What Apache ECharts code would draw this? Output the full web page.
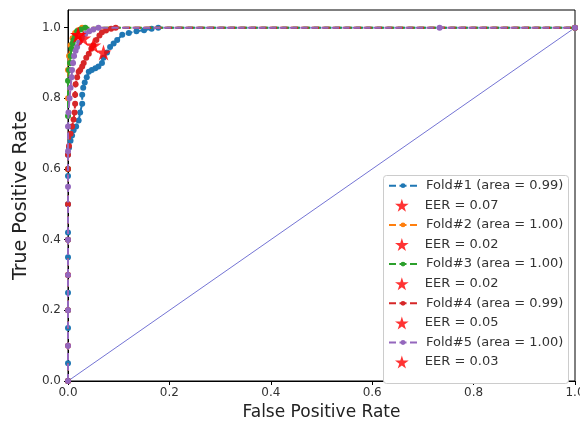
<!DOCTYPE html>
<html>
<head>
<meta charset="utf-8">
<script src="https://cdn.jsdelivr.net/npm/echarts@6/dist/echarts.min.js"></script>
<style>
  html, body { margin: 0; padding: 0; background: #fff; }
  #roc { width: 580px; height: 426px; }
</style>
</head>
<body>
<div id="roc"></div>
<script>
// ROC points, [fpr, tpr]
var fold1 = [[0,0],[0,0.05],[0,0.15],[0,0.25],[0,0.35],[0,0.42],[0,0.5],[0,0.58],[0,0.64],[0.002,0.66],[0.005,0.68],
  [0.008,0.695],[0.011,0.71],[0.016,0.72],[0.021,0.737],[0.024,0.76],[0.028,0.785],[0.028,0.81],[0.03,0.83],[0.033,0.845],
  [0.037,0.86],[0.041,0.875],[0.047,0.88],[0.054,0.885],[0.06,0.89],[0.067,0.9],[0.07,0.915],[0.077,0.93],[0.083,0.945],
  [0.09,0.955],[0.097,0.965],[0.107,0.98],[0.12,0.985],[0.135,0.99],[0.15,0.993],[0.165,0.997],[0.178,1.0],[1,1]];
var fold2 = [[0,0],[0,0.3],[0,0.6],[0,0.8],[0,0.88],[0.002,0.92],[0.005,0.95],[0.009,0.97],[0.014,0.985],[0.02,0.993],
  [0.028,1.0],[1,1]];
var fold3 = [[0,0],[0,0.2],[0,0.4],[0,0.6],[0,0.75],[0,0.85],[0.002,0.88],[0.004,0.9],[0.005,0.92],[0.007,0.94],
  [0.009,0.955],[0.011,0.965],[0.014,0.975],[0.018,0.99],[0.025,0.995],[0.034,1.0],[1,1]];
var fold4 = [[0,0],[0,0.1],[0,0.2],[0,0.3],[0,0.4],[0,0.5],[0,0.6],[0,0.64],[0.002,0.665],[0.005,0.7],[0.008,0.72],
  [0.011,0.74],[0.013,0.76],[0.014,0.785],[0.014,0.81],[0.015,0.84],[0.018,0.86],[0.021,0.875],[0.024,0.88],[0.028,0.89],
  [0.031,0.9],[0.036,0.915],[0.041,0.926],[0.046,0.94],[0.05,0.95],[0.056,0.965],[0.062,0.978],[0.067,0.987],
  [0.075,0.992],[0.085,0.997],[0.094,1.0],[1,1]];
var fold5 = [[0,0],[0,0.1],[0,0.2],[0,0.3],[0,0.4],[0,0.55],[0,0.65],[0,0.72],[0.001,0.76],[0.003,0.8],[0.005,0.83],
  [0.007,0.86],[0.008,0.88],[0.01,0.9],[0.012,0.92],[0.015,0.935],[0.018,0.945],[0.022,0.958],[0.027,0.97],
  [0.034,0.982],[0.042,0.99],[0.05,0.995],[0.06,1.0],[0.733,1.0],[1,1]];

var foldNames = ['Fold#1 (area = 0.99)', 'Fold#2 (area = 1.00)', 'Fold#3 (area = 1.00)', 'Fold#4 (area = 0.99)', 'Fold#5 (area = 1.00)'];
// trailing space keeps the two "0.02" legend entries apart
var eerNames = ['EER = 0.07', 'EER = 0.02', 'EER = 0.02 ', 'EER = 0.05', 'EER = 0.03'];
var eerPoints = [[0.07, 0.93], [0.02, 0.98], [0.02, 0.98], [0.05, 0.95], [0.03, 0.97]];
var foldColors = ['#1f77b4', '#ff7f0e', '#2ca02c', '#d62728', '#9467bd'];
var folds = [fold1, fold2, fold3, fold4, fold5];
var chance = [[0, 0], [1, 1]];

var star = 'path://M50,0 L61,35 L98,35 L68,57 L79,91 L50,70 L21,91 L32,57 L2,35 L39,35 Z';

var chart = echarts.init(document.getElementById('roc'));

var series = [{
  name: 'chance',
  type: 'line',
  data: chance,
  symbol: 'none',
  lineStyle: { color: '#7474d4', width: 1 },
  z: 1
}];
folds.forEach(function (f, i) {
  series.push({
    name: foldNames[i],
    type: 'line',
    data: f,
    symbol: 'circle',
    symbolSize: 6,
    color: foldColors[i],
    itemStyle: { color: foldColors[i] },
    lineStyle: { color: foldColors[i], width: 2, type: [7, 3.5] },
    z: 2 + i * 0.1
  });
  series.push({
    name: eerNames[i],
    type: 'scatter',
    data: [eerPoints[i]],
    symbol: star,
    symbolSize: 16,
    itemStyle: { color: '#ff0000' },
    z: 5
  });
});

// two interleaved legends: small dots for the folds, bigger stars for EER
var rowPitch = 19.6;

var option = {
  animation: false,
  textStyle: { fontFamily: 'DejaVu Sans' },
  grid: {
    left: 68, right: 5, top: 10, bottom: 45,
    outerBoundsMode: 'none',
    show: true, borderColor: '#000', borderWidth: 1
  },
  graphic: [{
    type: 'rect',
    left: 383, top: 175,
    shape: { width: 185, height: 208, r: 3 },
    style: { fill: '#fff', stroke: '#cccccc', lineWidth: 1 },
    z: 20
  }],
  legend: [{
    orient: 'vertical',
    left: 388, top: 178.7,
    padding: 0,
    itemGap: rowPitch * 2 - 14,
    itemWidth: 28, itemHeight: 6,
    textStyle: { fontSize: 13, color: '#333', fontFamily: 'DejaVu Sans', lineHeight: 14, padding: [0, 0, 0, 4] },
    data: foldNames,
    z: 30
  }, {
    orient: 'vertical',
    left: 395, top: 178.7 + rowPitch,
    padding: 0,
    itemGap: rowPitch * 2 - 14,
    itemWidth: 28, itemHeight: 13,
    textStyle: { fontSize: 13, color: '#333', fontFamily: 'DejaVu Sans', lineHeight: 14, padding: [0, 0, 0, 4] },
    data: eerNames,
    z: 30
  }],
  xAxis: {
    type: 'value',
    min: 0, max: 1, interval: 0.2,
    name: 'False Positive Rate',
    nameLocation: 'middle',
    nameGap: 22,
    nameTextStyle: { fontSize: 17, color: '#222' },
    axisLine: { lineStyle: { color: '#000' } },
    axisTick: { length: 4, lineStyle: { color: '#000' } },
    axisLabel: { fontSize: 12, color: '#333', margin: 6, formatter: function (v) { return v.toFixed(1); } },
    splitLine: { show: false }
  },
  yAxis: {
    type: 'value',
    min: 0, max: 1.05, interval: 0.2,
    name: 'True Positive Rate',
    nameLocation: 'middle',
    nameGap: 35,
    nameTextStyle: { fontSize: 19, color: '#222' },
    axisLine: { lineStyle: { color: '#000' } },
    axisTick: { length: 4, lineStyle: { color: '#000' } },
    axisLabel: {
      fontSize: 12, color: '#333', margin: 7, showMaxLabel: false,
      formatter: function (v) { return v.toFixed(1); }
    },
    splitLine: { show: false }
  },
  series: series
};
chart.setOption(option);
</script>
</body>
</html>
